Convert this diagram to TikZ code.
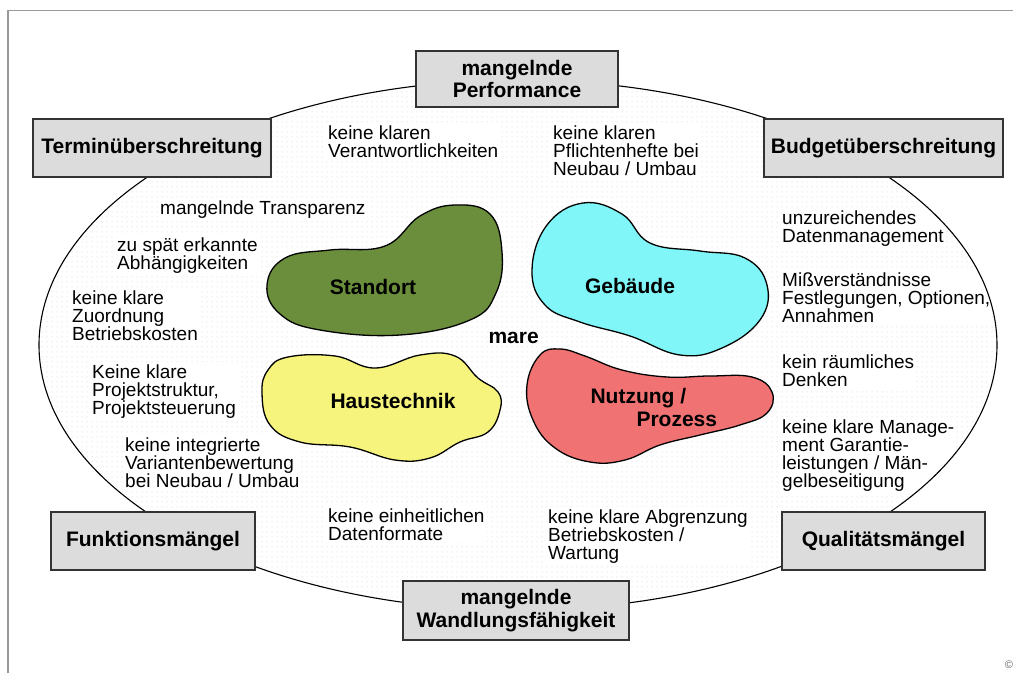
\documentclass[tikz,border=0pt]{standalone}
\usepackage{fontspec}
\setmainfont{Liberation Sans}
\usetikzlibrary{patterns.meta}

\definecolor{boxgray}{HTML}{DCDCDC}
\definecolor{sitegreen}{HTML}{6A8E3B}
\definecolor{bldcyan}{HTML}{80F6F8}
\definecolor{techyellow}{HTML}{F6F47C}
\definecolor{userred}{HTML}{F07272}

% faint dot raster for the ellipse area
\tikzdeclarepattern{
  name=softdots, type=uncolored,
  bounding box={(0pt,0pt) and (5pt,5pt)},
  tile size={(5pt,5pt)},
  code={\fill (2.5pt,2.5pt) circle (0.6pt);}
}

\begin{document}
\begin{tikzpicture}[x=1pt,y=-1pt,
  issue/.style={font=\fontsize{21}{22.5}\selectfont\bfseries, fill=boxgray,
    draw=black!80, line width=1.3pt, align=center, inner sep=0pt},
  % notes are placed by the baseline of their last line
  note/.style={font=\fontsize{19}{18.3}\selectfont, align=left,
    anchor=base west, fill=white, inner sep=2pt},
  blob/.style={draw=black, line width=1.3pt},
  bloblabel/.style={font=\fontsize{21}{22.5}\selectfont\bfseries}]
\lineskiplimit=-20pt

% page and frame
\fill[white] (0,0) rectangle (1013,673);
\useasboundingbox (0,0) rectangle (1013,673);
\draw[black!40, line width=1.3pt] (8,673) -- (8,10.5) -- (1013,10.5);
\node[font=\fontsize{11}{11}\selectfont, text=black!60] (copy) at (1009,665) {©};

% dotted area of the big ellipse
\fill[pattern={softdots}, pattern color=black!20]
  (518,345) ellipse [x radius=479, y radius=265];

% problem notes
\node[note] (n1) at (326,157.3) {keine klaren\\Verantwortlichkeiten};
\node[note] (n2) at (551,175.6) {keine klaren\\Pflichtenhefte bei\\Neubau / Umbau};
\node[note] (n3) at (158,214) {mangelnde Transparenz};
\node[note] (n4) at (115,269.3) {zu spät erkannte\\Abhängigkeiten};
\node[note] (n5) at (70,340.6) {keine klare\\Zuordnung\\Betriebskosten};
\node[note] (n6) at (90,414.6) {Keine klare\\Projektstruktur,\\Projektsteuerung};
\node[note] (n7) at (123,487.6) {keine integrierte\\Variantenbewertung\\bei Neubau / Umbau};
\node[note] (n8) at (326,540.3) {keine einheitlichen\\Datenformate};
\node[note] (n9) at (546,559.6) {keine klare Abgrenzung\\Betriebskosten /\\Wartung};
\node[note] (n10) at (780,242.3) {unzureichendes\\Datenmanagement};
\node[note] (n11) at (780,322.6) {Mißverständnisse\\Festlegungen, Optionen,\\Annahmen};
\node[note] (n12) at (780,386.3) {kein räumliches\\Denken};
\node[note] (n13) at (780,487.9) {keine klare Manage-\\ment Garantie-\\leistungen / Män-\\gelbeseitigung};

% four blobs
\draw[blob, fill=sitegreen] plot[smooth cycle, tension=0.7] coordinates {
  (267,285) (285,258) (330,250) (385,246) (420,216) (455,205) (490,214)
  (502,252) (496,293) (470,320) (400,335) (320,330) (280,314)};
\draw[blob, fill=bldcyan] plot[smooth cycle, tension=0.7] coordinates {
  (583,203) (622,214) (650,243) (700,251) (745,258) (767,285) (760,320)
  (722,348) (680,355) (630,336) (580,322) (545,305) (532,270) (547,225)};
\draw[blob, fill=techyellow] plot[smooth cycle, tension=0.7] coordinates {
  (262,393) (268,370) (288,357) (335,356) (375,368) (420,355) (455,356)
  (478,378) (498,392) (500,410) (488,432) (460,442) (430,458) (395,460)
  (350,447) (300,442) (270,425)};
\draw[blob, fill=userred] plot[smooth cycle, tension=0.7] coordinates {
  (540,355) (560,349) (585,356) (622,370) (667,377) (710,376) (752,377)
  (772,392) (767,413) (740,425) (700,435) (660,445) (625,460) (590,462)
  (555,448) (533,420) (527,385)};

\node[bloblabel] (standort) at (373,287) {Standort};
\node[bloblabel] (gebaeude) at (630,286) {Gebäude};
\node[bloblabel] (haustechnik) at (393,401) {Haustechnik};
\node[bloblabel, align=left, anchor=base west] (nutzung) at (587,426)
  {Nutzung /\\\hspace*{46pt}Prozess};
\node[bloblabel, anchor=west] (mare) at (485,338) {mare};

% outline of the big ellipse, over the notes
\draw[line width=1.1pt] (518,345) ellipse [x radius=479, y radius=265];

% consequence boxes on the ellipse
\node[issue, minimum width=202, minimum height=56] (perf) at (517,79)
  {mangelnde\\Performance};
\node[issue, minimum width=238, minimum height=58] (termin) at (152,148)
  {Terminüberschreitung};
\node[issue, minimum width=239, minimum height=58] (budget) at (883.5,148)
  {Budgetüberschreitung};
\node[issue, minimum width=204, minimum height=58] (funktion) at (153,541)
  {Funktionsmängel};
\node[issue, minimum width=203, minimum height=58] (qualitaet) at (883.5,541)
  {Qualitätsmängel};
\node[issue, minimum width=226, minimum height=59] (wandel) at (516,610.5)
  {mangelnde\\Wandlungsfähigkeit};
\end{tikzpicture}
\end{document}
